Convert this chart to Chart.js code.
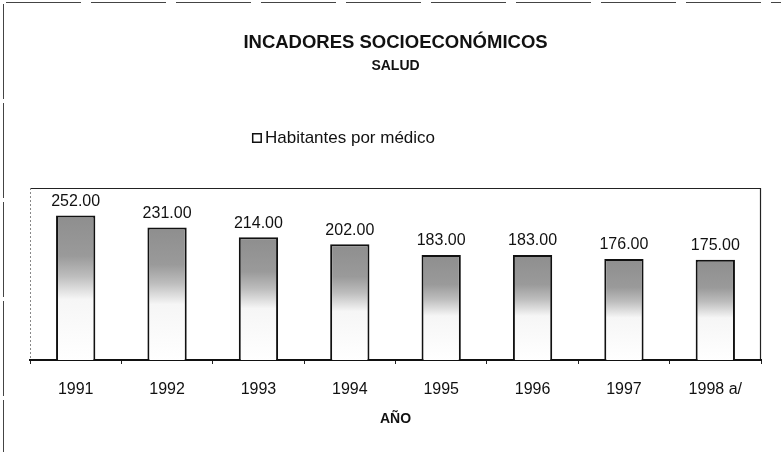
<!DOCTYPE html>
<html>
<head>
<meta charset="utf-8">
<script src="https://cdn.jsdelivr.net/npm/chart.js@4.4.1/dist/chart.umd.min.js"></script>
<style>
  html, body { margin: 0; padding: 0; background: #fff; }
  #wrap { width: 781px; height: 452px; position: relative; }
</style>
</head>
<body>
<div id="wrap"><canvas id="c" width="781" height="452"></canvas></div>
<script>
const titleText = 'INCADORES SOCIOECONÓMICOS';
const subtitleText = 'SALUD';
const seriesName = 'Habitantes por médico';
const axisTitle = 'AÑO';
const years = ['1991', '1992', '1993', '1994', '1995', '1996', '1997', '1998 a/'];
const habitantesPorMedico = [252, 231, 214, 202, 183, 183, 176, 175];
const yMin = 0;
const yMax = 300;

const FONT = "'Liberation Sans', Arial, Helvetica, sans-serif";
const INK = '#111';

function barGradient(context) {
  const chart = context.chart;
  const area = chart.chartArea;
  if (!area) return '#999';
  const y = chart.scales.y;
  const top = y.getPixelForValue(context.raw);
  const base = y.getPixelForValue(0);
  const g = chart.ctx.createLinearGradient(0, top, 0, base);
  g.addColorStop(0, '#8e8e8e');
  g.addColorStop(0.28, '#9a9a9a');
  g.addColorStop(0.42, '#bdbdbd');
  g.addColorStop(0.58, '#f6f6f6');
  g.addColorStop(1, '#ffffff');
  return g;
}

const framePlugin = {
  id: 'frame',
  beforeDraw(chart) {
    const c = chart.ctx;
    const a = chart.chartArea;
    c.save();
    // outer page frame (top + left)
    c.strokeStyle = '#444';
    c.lineWidth = 1;
    c.setLineDash([75, 10]);
    c.beginPath(); c.moveTo(6, 2.5); c.lineTo(chart.width, 2.5); c.stroke();
    c.setLineDash([95, 4]);
    c.beginPath(); c.moveTo(3.5, 4); c.lineTo(3.5, chart.height); c.stroke();
    // plot area frame
    c.setLineDash([]);
    c.strokeStyle = '#222';
    c.lineWidth = 1.2;
    c.beginPath(); c.moveTo(a.left, a.top + 0.5); c.lineTo(a.right, a.top + 0.5); c.stroke();
    c.beginPath(); c.moveTo(a.right - 0.5, a.top); c.lineTo(a.right - 0.5, a.bottom); c.stroke();
    c.strokeStyle = '#888';
    c.lineWidth = 1;
    c.setLineDash([2, 2]);
    c.beginPath(); c.moveTo(a.left + 0.5, a.top); c.lineTo(a.left + 0.5, a.bottom); c.stroke();
    c.restore();
  },
  afterDraw(chart) {
    // legend, positioned like the original (left of centre)
    const c = chart.ctx;
    const a = chart.chartArea;
    c.save();
    c.font = '17px ' + FONT;
    c.textBaseline = 'middle';
    c.textAlign = 'left';
    const tw = c.measureText(seriesName).width;
    const box = 10;
    const gap = 3;
    const total = box + gap + tw;
    const cx = (a.left + a.right) / 2 - 52;
    const x0 = cx - total / 2;
    const yMid = 138;
    c.fillStyle = '#fff';
    c.fillRect(x0, yMid - box / 2, box, box);
    c.strokeStyle = INK;
    c.lineWidth = 1.5;
    c.strokeRect(x0 + 0.75, yMid - box / 2 + 0.75, box - 1.5, box - 1.5);
    c.fillStyle = INK;
    c.fillText(seriesName, x0 + box + gap, yMid);
    c.restore();
  }
};

const labelPlugin = {
  id: 'valueLabels',
  afterDatasetsDraw(chart) {
    const c = chart.ctx;
    const meta = chart.getDatasetMeta(0);
    const vals = chart.data.datasets[0].data;
    c.save();
    c.font = '16px ' + FONT;
    c.fillStyle = INK;
    c.textAlign = 'center';
    c.textBaseline = 'middle';
    meta.data.forEach((bar, i) => {
      c.fillText(Number(vals[i]).toFixed(2), bar.x, bar.y - 14);
    });
    c.restore();
  }
};

new Chart(document.getElementById('c'), {
  type: 'bar',
  data: {
    labels: years,
    datasets: [{
      label: seriesName,
      data: habitantesPorMedico,
      backgroundColor: barGradient,
      borderColor: INK,
      borderWidth: 2,
      barPercentage: 0.43,
      categoryPercentage: 1.0
    }]
  },
  options: {
    responsive: false,
    animation: false,
    devicePixelRatio: 1,
    layout: { padding: { left: 30, right: 20, top: 0, bottom: 0 } },
    plugins: {
      legend: { display: false },
      tooltip: { enabled: false },
      title: {
        display: true,
        text: titleText,
        color: INK,
        font: { family: FONT, size: 18.5, weight: 'bold' },
        padding: { top: 32, bottom: 0 }
      },
      subtitle: {
        display: true,
        text: subtitleText,
        color: INK,
        font: { family: FONT, size: 14, weight: 'bold' },
        padding: { top: 4, bottom: 113 }
      }
    },
    scales: {
      x: {
        grid: {
          display: true,
          drawOnChartArea: false,
          drawTicks: true,
          tickLength: 4,
          color: '#222',
          offset: true
        },
        border: { display: true, color: '#111', width: 2 },
        ticks: {
          color: INK,
          font: { family: FONT, size: 16 },
          padding: 16,
          maxRotation: 0,
          autoSkip: false
        },
        title: {
          display: true,
          text: axisTitle,
          color: INK,
          font: { family: FONT, size: 14, weight: 'bold' },
          padding: { top: 0, bottom: 24 }
        },
        afterFit(scale) { scale.height = 92; }
      },
      y: {
        display: false,
        min: yMin,
        max: yMax
      }
    }
  },
  plugins: [framePlugin, labelPlugin]
});
</script>
</body>
</html>
